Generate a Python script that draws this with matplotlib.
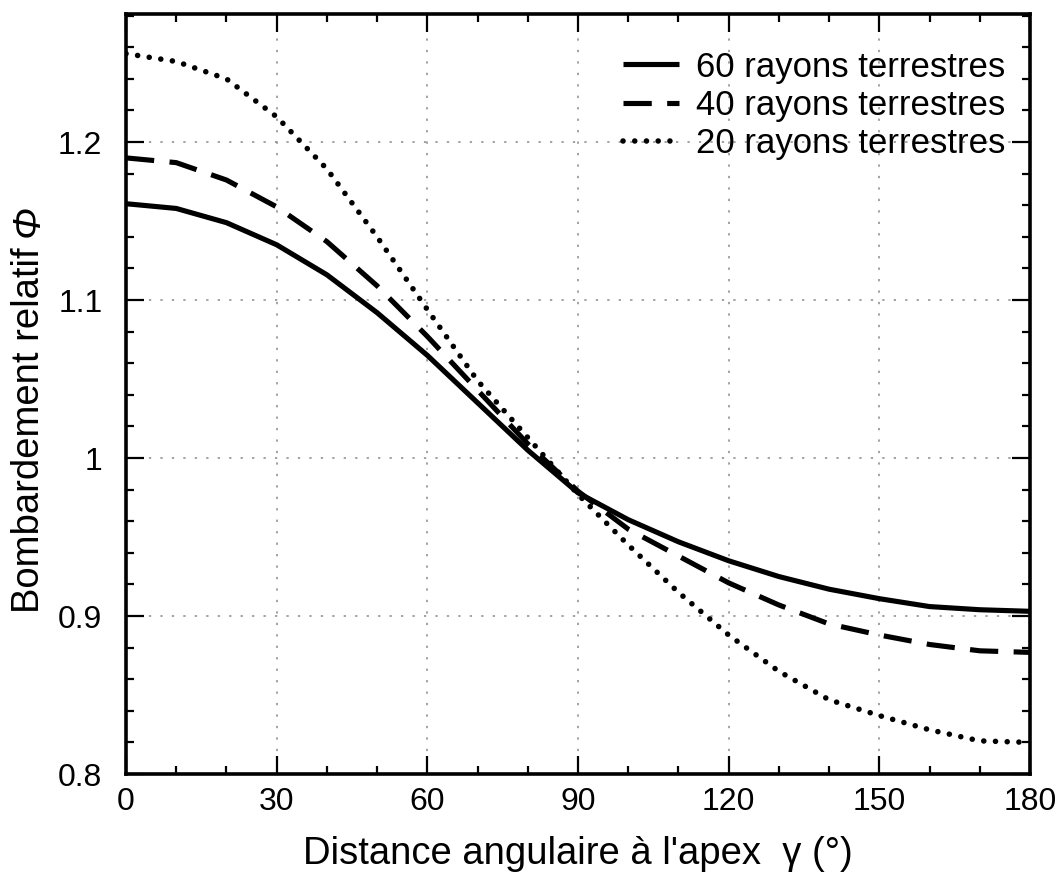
import numpy as np
import matplotlib.pyplot as plt
import matplotlib.transforms as mtransforms
from matplotlib.ticker import MultipleLocator

plt.rcParams["font.family"] = ["Liberation Sans", "DejaVu Sans"]

# distance angulaire (degrés)
gamma = [0, 10, 20, 30, 40, 50, 60, 70, 80, 90, 100, 110, 120, 130, 140, 150, 160, 170, 180]

phi_60 = [1.161, 1.158, 1.149, 1.135, 1.116, 1.092, 1.065, 1.035, 1.005, 0.978, 0.961,
          0.947, 0.935, 0.925, 0.917, 0.911, 0.906, 0.904, 0.903]
phi_40 = [1.190, 1.187, 1.176, 1.159, 1.137, 1.109, 1.077, 1.043, 1.009, 0.979, 0.955,
          0.938, 0.921, 0.907, 0.895, 0.888, 0.882, 0.878, 0.877]
phi_20 = [1.256, 1.251, 1.240, 1.216, 1.183, 1.140, 1.094, 1.049, 1.013, 0.977, 0.945,
          0.915, 0.888, 0.865, 0.847, 0.837, 0.828, 0.821, 0.820]

labels = ["60 rayons terrestres", "40 rayons terrestres", "20 rayons terrestres"]

fig = plt.figure(figsize=(10.59, 8.83), dpi=100)
ax = fig.add_axes([0.119, 0.1234, 0.8536, 0.8606])

ax.plot(gamma, phi_60, color="black", lw=3.7, solid_capstyle="butt", label=labels[0])
ax.plot(gamma, phi_40, color="black", lw=3.7, ls=(0, (5.5, 3.0)), dash_capstyle="butt",
        label=labels[1])
ax.plot(gamma, phi_20, color="black", lw=4.0, ls=(0, (0.01, 2.1)), dash_capstyle="round",
        label=labels[2])

ax.set_xlim(0, 180)
ax.set_ylim(0.8, 1.281)
ax.xaxis.set_major_locator(MultipleLocator(30))
ax.xaxis.set_minor_locator(MultipleLocator(10))
ax.yaxis.set_minor_locator(MultipleLocator(0.02))
ax.set_yticks([0.8, 0.9, 1.0, 1.1, 1.2])
ax.set_yticklabels(["0.8", "0.9", "1", "1.1", "1.2"])

ax.tick_params(which="both", direction="in", top=True, right=True, labelsize=23, width=1.6)
ax.tick_params(which="major", length=13)
ax.tick_params(which="minor", length=6)
ax.tick_params(axis="x", which="major", pad=9)
ax.tick_params(axis="y", which="major", pad=17)
for s in ax.spines.values():
    s.set_linewidth(2.6)

ax.grid(True, which="major", color="#8a8a8a", ls=(0, (1.5, 6)), lw=1.1)

ax.set_xlabel("Distance angulaire à l'apex  γ (°)", fontsize=27.5, labelpad=14)
ax.set_ylabel("Bombardement relatif", fontsize=27.5, labelpad=8)
ax.yaxis.label.set_y(0.453)

ax.legend(loc="upper right", bbox_to_anchor=(1.0, 0.984), frameon=False, fontsize=25,
          handlelength=1.6, handletextpad=0.5, labelspacing=0.15, borderaxespad=0.3)

# Φ en italique, ajouté au bout du label y
fig.canvas.draw()
bb = ax.yaxis.label.get_window_extent()
fig.text(bb.x1, bb.y1 + 10, "Φ", transform=mtransforms.IdentityTransform(), rotation=90,
         ha="right", va="bottom", fontsize=27.5, style="italic")

fig.savefig("out.png", dpi=100)
